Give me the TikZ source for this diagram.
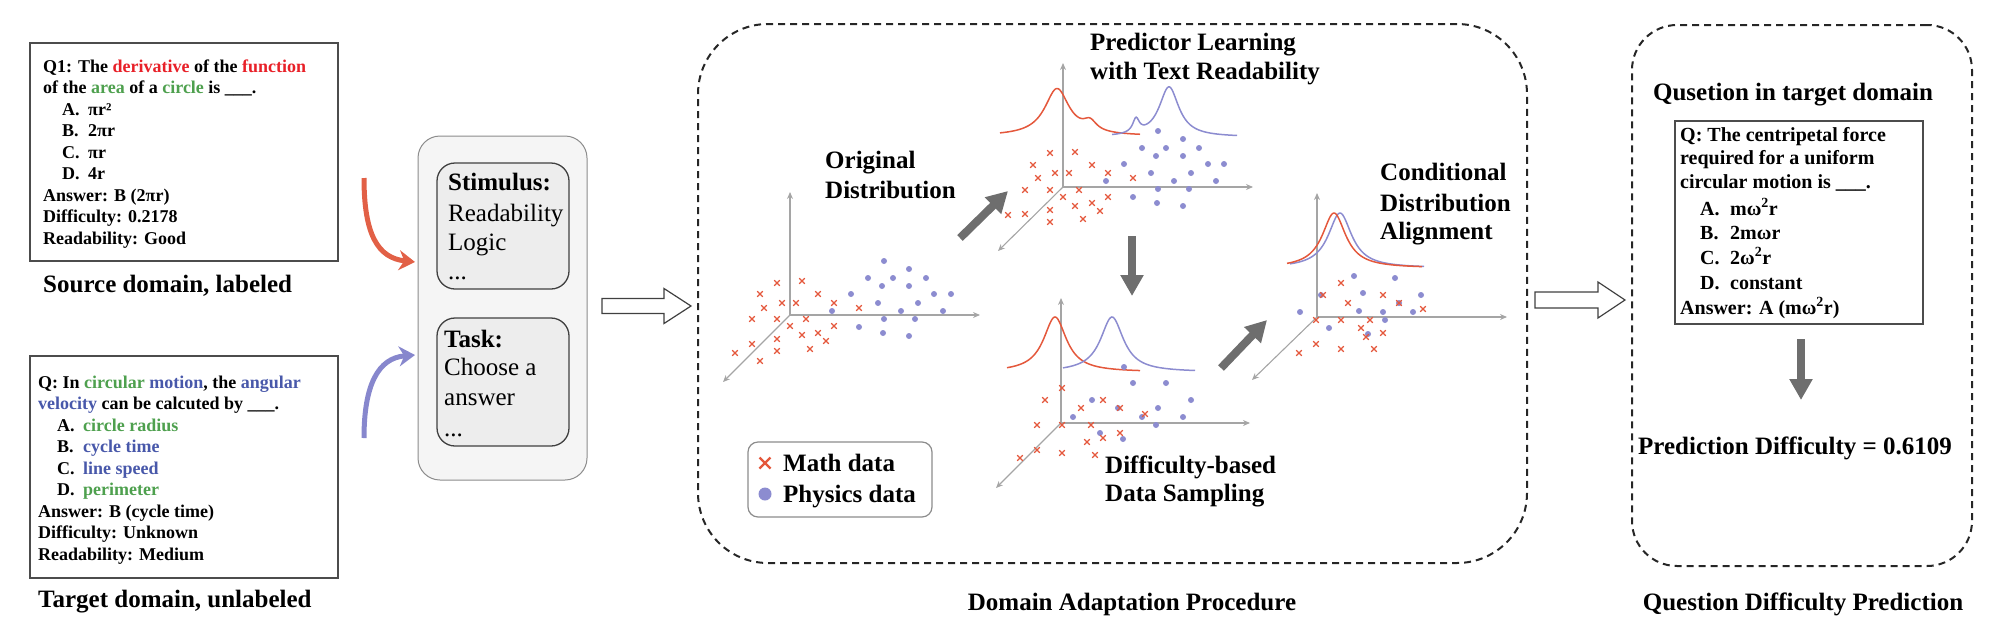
\documentclass[tikz,border=0pt]{standalone}
\usepackage{fontspec}
\setmainfont{Liberation Serif}
\usetikzlibrary{arrows.meta}
\definecolor{txred}{RGB}{232,32,40}
\definecolor{txgrn}{RGB}{78,160,78}
\definecolor{txblu}{RGB}{72,88,170}
\definecolor{mred}{RGB}{228,88,60}
\definecolor{mblu}{RGB}{140,140,208}
\definecolor{axg}{RGB}{165,165,165}
\definecolor{arg}{RGB}{110,110,110}
\definecolor{inred}{RGB}{226,96,70}
\definecolor{inblu}{RGB}{135,135,205}
\newcommand\optlab[1]{\makebox[26pt][l]{#1}}
\newcommand\optlabw[1]{\makebox[30pt][l]{#1}}
\begin{document}
\begin{tikzpicture}[x=1pt,y=-1pt,
  qbox/.style={draw=black!70, line width=1.5pt, inner sep=0pt, outer sep=0pt, anchor=north west},
  ln/.style={anchor=base west, inner sep=0pt, font=\fontsize{18}{21}\selectfont\bfseries},
  lnq/.style={anchor=base west, inner sep=0pt, font=\fontsize{20}{24}\selectfont\bfseries},
  lbl/.style={inner sep=0pt, font=\fontsize{25}{30}\selectfont\bfseries},
  stb/.style={anchor=base west, inner sep=0pt, font=\fontsize{25}{30}\selectfont\bfseries},
  str/.style={anchor=base west, inner sep=0pt, font=\fontsize{25}{30}\selectfont},
  axis/.style={draw=axg, line width=1.1pt, -{Stealth[length=7pt,width=6pt]}},
  fat/.style={draw=arg, line width=8pt, -{Triangle[width=22pt,length=21pt]}},
  crs/.style={draw=mred, line width=1.1pt},
  dotc/.style={fill=mblu},
  cr/.style={draw=mred, line width=1.5pt},
  cb/.style={draw=mblu, line width=1.5pt},
  dashbox/.style={draw=black!85, line width=2pt, dash pattern=on 7pt off 5pt, inner sep=0pt, outer sep=0pt, anchor=north west},
  hollow/.style={draw=black!75, line width=1.2pt, fill=white},
  inarrow/.style={line width=5pt, -{Stealth[length=16pt,width=20pt]}}
]
\useasboundingbox (0,0) rectangle (2000,638);

% ---------------- Left: source box ----------------
\node[qbox, minimum width=308, minimum height=218] (src) at (30,43) {};
\node[ln] (s1) at (43,72) {Q1: The \textcolor{txred}{derivative} of the \textcolor{txred}{function}};
\node[ln] (s2) at (43,93.5) {of the \textcolor{txgrn}{area} of a \textcolor{txgrn}{circle} is \_\_\_.};
\node[ln] (s3) at (62,115) {\optlab{A.}πr²};
\node[ln] (s4) at (62,136.5) {\optlab{B.}2πr};
\node[ln] (s5) at (62,158) {\optlab{C.}πr};
\node[ln] (s6) at (62,179.5) {\optlab{D.}4r};
\node[ln] (s7) at (43,201) {Answer: B (2πr)};
\node[ln] (s8) at (43,222.5) {Difficulty: 0.2178};
\node[ln] (s9) at (43,244) {Readability: Good};
\node[lbl, anchor=base west] (srclbl) at (43,292) {Source domain, labeled};

% ---------------- Left: target box ----------------
\node[qbox, minimum width=308, minimum height=222] (tgt) at (30,356) {};
\node[ln] (t1) at (38,388) {Q: In \textcolor{txgrn}{circular} \textcolor{txblu}{motion}, the \textcolor{txblu}{angular}};
\node[ln] (t2) at (38,409.5) {\textcolor{txblu}{velocity} can be calcuted by \_\_\_.};
\node[ln] (t3) at (57,431) {\optlab{A.}\textcolor{txgrn}{circle radius}};
\node[ln] (t4) at (57,452.5) {\optlab{B.}\textcolor{txblu}{cycle time}};
\node[ln] (t5) at (57,474) {\optlab{C.}\textcolor{txblu}{line speed}};
\node[ln] (t6) at (57,495.5) {\optlab{D.}\textcolor{txgrn}{perimeter}};
\node[ln] (t7) at (38,517) {Answer: B (cycle time)};
\node[ln] (t8) at (38,538.5) {Difficulty: Unknown};
\node[ln] (t9) at (38,560) {Readability: Medium};
\node[lbl, anchor=base west] (tgtlbl) at (38,607) {Target domain, unlabeled};

% ---------------- Stimulus / Task ----------------
\node[draw=black!45, fill=black!4, line width=1pt, rounded corners=22pt, inner sep=0pt, outer sep=0pt, anchor=north west, minimum width=169, minimum height=344] (stim) at (418,136) {};
\node[draw=black!75, fill=black!7, line width=1.3pt, rounded corners=18pt, inner sep=0pt, outer sep=0pt, anchor=north west, minimum width=132, minimum height=126] (stimbox) at (437,163) {};
\node[draw=black!75, fill=black!7, line width=1.3pt, rounded corners=18pt, inner sep=0pt, outer sep=0pt, anchor=north west, minimum width=132, minimum height=128] (taskbox) at (437,318) {};
\node[stb] (st1) at (448,190) {Stimulus:};
\node[str] (st2) at (448,221) {Readability};
\node[str] (st3) at (448,250) {Logic};
\node[str] (st4) at (448,279) {...};
\node[stb] (tk1) at (444,347) {Task:};
\node[str] (tk2) at (444,375) {Choose a};
\node[str] (tk3) at (444,405) {answer};
\node[str] (tk4) at (444,436) {...};

\coordinate (rs) at (364,178);
\coordinate (re) at (415,262);
\coordinate (bs) at (364,438);
\coordinate (be) at (415,355);
\draw[inarrow, draw=inred] (rs) .. controls (364,235) and (378,258) .. (re);
\draw[inarrow, draw=inblu] (bs) .. controls (364,385) and (378,358) .. (be);

% hollow arrow 1
\coordinate (h1s) at (602,306);
\coordinate (h1e) at (691,306);
\draw[hollow] (h1s) ++(0,-7.5) -- ++(62,0) -- ++(0,-10) -- (h1e) -- ++(-27,17.5) -- ++(0,-10) -- ++(-62,0) -- cycle;

% ---------------- Domain adaptation box ----------------
\node[dashbox, rounded corners=70pt, minimum width=829, minimum height=539] (dap) at (698,24) {};
\node[lbl, anchor=base] (daplbl) at (1132,610) {Domain Adaptation Procedure};

% ---- plot 1 ----
\coordinate (O1) at (790,315); \coordinate (U1) at (790,192);
\coordinate (R1) at (980,315); \coordinate (D1) at (723,382);
\draw[axis] (O1) -- (U1); \draw[axis] (O1) -- (R1); \draw[axis] (O1) -- (D1);
\foreach \p in {(884,261),(909,269),(868,278),(893,278),(926,278),(882,286),(909,286),(851,294),(934,294),(951,294),(878,303),(918,303),(832,311),(901,311),(943,311),(884,319),(915,319),(859,327),(883,333),(909,336)}
  \fill[dotc] \p circle (3);
\foreach \p in {(777,283),(802,281),(760,294),(782,303),(796,303),(818,294),(834,303),(859,308),(764,308),(752,319),(777,319),(806,319),(790,326),(834,326),(802,335),(818,333),(826,341),(777,339),(752,344),(735,353),(760,361),(777,351),(810,349)}
  \draw[crs] \p +(-2.8,-2.8) -- +(2.8,2.8) \p +(-2.8,2.8) -- +(2.8,-2.8);
\node[stb] (od1) at (825,168) {Original};
\node[stb] (od2) at (825,198) {Distribution};

% ---- plot 2 ----
\coordinate (O2) at (1063,187); \coordinate (U2) at (1063,63);
\coordinate (R2) at (1253,187); \coordinate (D2) at (998,251);
\draw[axis] (O2) -- (U2); \draw[axis] (O2) -- (R2); \draw[axis] (O2) -- (D2);
\draw[cr] plot[domain=1000:1140, samples=120] (\x, {136-47/(1+((\x-1057)/15)^2)-10/(1+((\x-1090)/8)^2)});
\draw[cb] plot[domain=1112:1237, samples=120] (\x, {137-50/(1+((\x-1169)/12)^2)-14/(1+((\x-1136)/4)^2)});
\foreach \p in {(1158,131),(1183,139),(1142,148),(1166,148),(1199,148),(1156,156),(1183,156),(1124,164),(1208,164),(1224,164),(1151,173),(1191,173),(1106,181),(1174,181),(1216,181),(1158,189),(1189,189),(1133,197),(1157,203),(1183,206)}
  \fill[dotc] \p circle (3);
\foreach \p in {(1050,153),(1075,152),(1033,165),(1092,165),(1055,173),(1069,173),(1038,178),(1108,173),(1133,178),(1025,190),(1050,190),(1079,190),(1063,197),(1108,197),(1075,206),(1092,203),(1100,211),(1008,215),(1025,214),(1050,210),(1050,222),(1083,219)}
  \draw[crs] \p +(-2.8,-2.8) -- +(2.8,2.8) \p +(-2.8,2.8) -- +(2.8,-2.8);
\node[stb] (pl1) at (1090,50) {Predictor Learning};
\node[stb] (pl2) at (1090,79) {with Text Readability};

% ---- plot 3 ----
\coordinate (O3) at (1061,423); \coordinate (U3) at (1061,298);
\coordinate (R3) at (1250,423); \coordinate (D3) at (996,488);
\draw[axis] (O3) -- (U3); \draw[axis] (O3) -- (R3); \draw[axis] (O3) -- (D3);
\draw[cr] plot[domain=1007:1140, samples=120] (\x, {372-55/(1+((\x-1055)/14)^2)});
\draw[cb] plot[domain=1063:1195, samples=120] (\x, {372-55/(1+((\x-1112)/14)^2)});
\foreach \p in {(1124,367),(1133,383),(1166,383),(1092,400),(1191,400),(1118,408),(1158,408),(1073,417),(1142,417),(1183,417),(1156,425),(1100,433),(1123,439)}
  \fill[dotc] \p circle (3);
\foreach \p in {(1062,388),(1045,400),(1103,400),(1081,408),(1120,408),(1037,425),(1062,425),(1091,425),(1145,414),(1120,433),(1103,438),(1087,442),(1037,450),(1062,453),(1095,455),(1020,458)}
  \draw[crs] \p +(-2.8,-2.8) -- +(2.8,2.8) \p +(-2.8,2.8) -- +(2.8,-2.8);
\node[stb] (ds1) at (1105,473) {Difficulty-based};
\node[stb] (ds2) at (1105,501) {Data Sampling};

% ---- plot 4 ----
\coordinate (O4) at (1317,317); \coordinate (U4) at (1317,193);
\coordinate (R4) at (1507,317); \coordinate (D4) at (1252,380);
\draw[axis] (O4) -- (U4); \draw[axis] (O4) -- (R4); \draw[axis] (O4) -- (D4);
\draw[cb] plot[domain=1290:1424, samples=120] (\x, {268-55/(1+((\x-1340)/14.3)^2)});
\draw[cr] plot[domain=1287:1422, samples=120] (\x, {268-55/(1+((\x-1334)/14.3)^2)});
\foreach \p in {(1354,276),(1395,278),(1321,295),(1363,293),(1421,295),(1300,312),(1359,311),(1383,312),(1399,303),(1413,312),(1385,320),(1329,328),(1368,334)}
  \fill[dotc] \p circle (3);
\foreach \p in {(1341,283),(1323,295),(1348,303),(1383,295),(1399,303),(1423,309),(1316,320),(1341,320),(1370,320),(1361,328),(1366,337),(1383,333),(1316,344),(1341,349),(1374,349),(1299,353)}
  \draw[crs] \p +(-2.8,-2.8) -- +(2.8,2.8) \p +(-2.8,2.8) -- +(2.8,-2.8);
\node[stb] (ca1) at (1380,180) {Conditional};
\node[stb] (ca2) at (1380,211) {Distribution};
\node[stb] (ca3) at (1380,239) {Alignment};

% ---- thick gray arrows ----
\coordinate (a1s) at (960,238); \coordinate (a1e) at (1008,191);
\coordinate (a2s) at (1132,236); \coordinate (a2e) at (1132,296);
\coordinate (a3s) at (1221,368); \coordinate (a3e) at (1267,320);
\draw[fat] (a1s) -- (a1e);
\draw[fat] (a2s) -- (a2e);
\draw[fat] (a3s) -- (a3e);

% ---- legend ----
\node[draw=black!45, line width=1.2pt, rounded corners=10pt, inner sep=0pt, outer sep=0pt, anchor=north west, minimum width=184, minimum height=75] (leg) at (748,442) {};
\coordinate (lgx) at (765,463);
\coordinate (lgd) at (765,494);
\draw[draw=mred, line width=2.2pt] (lgx) +(-5.5,-5.5) -- +(5.5,5.5) (lgx) +(-5.5,5.5) -- +(5.5,-5.5);
\fill[dotc] (lgd) circle (6.5);
\node[stb] (lg1) at (783,471) {Math data};
\node[stb] (lg2) at (783,502) {Physics data};

% hollow arrow 2
\coordinate (h2s) at (1535,300);
\coordinate (h2e) at (1625,300);
\draw[hollow] (h2s) ++(0,-8) -- ++(63,0) -- ++(0,-10) -- (h2e) -- ++(-27,18) -- ++(0,-10) -- ++(-63,0) -- cycle;

% ---------------- Right: prediction ----------------
\node[dashbox, rounded corners=45pt, minimum width=340, minimum height=541] (qdp) at (1632,25) {};
\node[lbl, anchor=base] (qtd) at (1793,100) {Qusetion in target domain};
\node[qbox, minimum width=248, minimum height=203] (qin) at (1675,121) {};
\node[lnq] (q1) at (1680,141) {Q: The centripetal force};
\node[lnq] (q2) at (1680,164) {required for a uniform};
\node[lnq] (q3) at (1680,188) {circular motion is \_\_\_.};
\node[lnq] (q4) at (1700,215) {\optlabw{A.}mω\textsuperscript{2}r};
\node[lnq] (q5) at (1700,239.5) {\optlabw{B.}2mωr};
\node[lnq] (q6) at (1700,264) {\optlabw{C.}2ω\textsuperscript{2}r};
\node[lnq] (q7) at (1700,289) {\optlabw{D.}constant};
\node[lnq] (q8) at (1680,314) {Answer: A (mω\textsuperscript{2}r)};
\coordinate (pa1) at (1801,339);
\coordinate (pa2) at (1801,400);
\draw[fat] (pa1) -- (pa2);
\node[lbl, anchor=base] (pdv) at (1795,454) {Prediction Difficulty = 0.6109};
\node[lbl, anchor=base] (qdplbl) at (1803,610) {Question Difficulty Prediction};
\end{tikzpicture}
\end{document}
